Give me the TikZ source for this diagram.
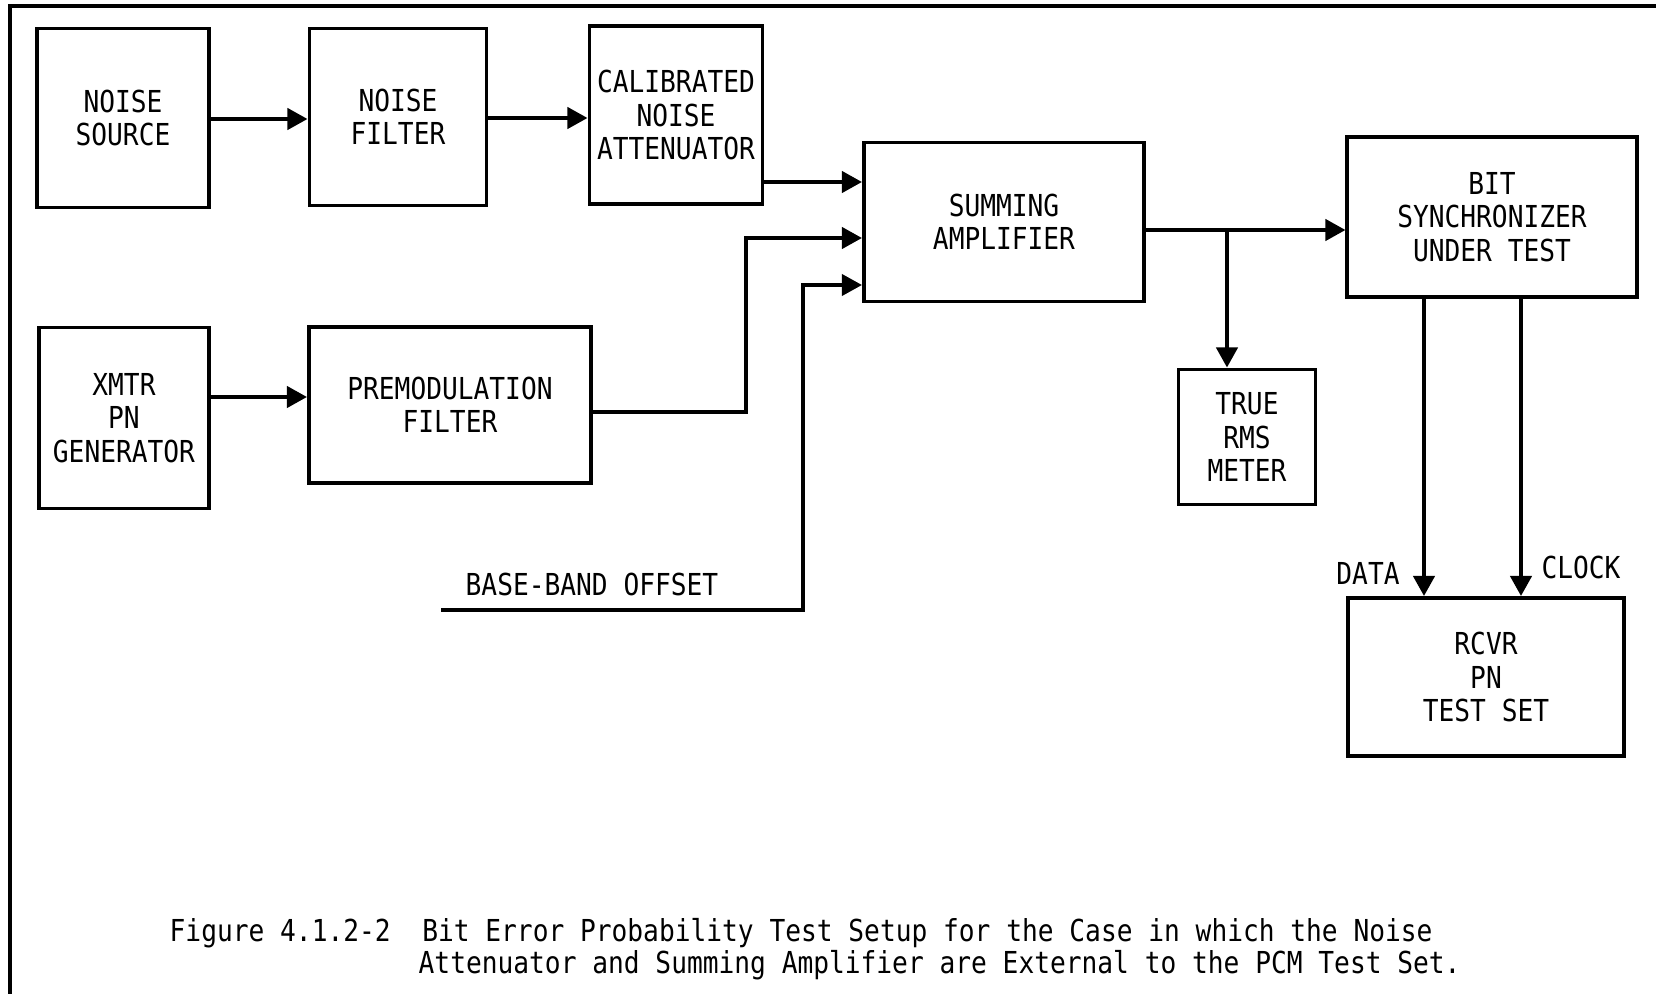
\documentclass[tikz,border=0pt]{standalone}
\usepackage{fontspec}
\usepackage{tikz}
\usetikzlibrary{arrows.meta}
\newfontfamily\typefont[FakeStretch=0.867]{DejaVu Sans Mono}

\begin{document}
\begin{tikzpicture}[x=0.01cm,y=-0.01cm,>={Triangle[length=5.7pt,width=6pt]},
    blk/.style={draw,line width=1.1pt,inner sep=0pt,align=center,
      font={\typefont\fontsize{8.6}{9.5}\selectfont}},
    lbl/.style={inner sep=0pt,font={\typefont\fontsize{8.6}{9.5}\selectfont}},
    sig/.style={->,line width=1.1pt}]
  \useasboundingbox (0,0) rectangle (1656,994);
  \draw[line width=0.9pt] (10,994) -- (10,6) -- (1656,6);

  % top row
  \node[blk,minimum width=1.72cm,minimum height=1.79cm] (ns) at (123,118) {NOISE\\SOURCE};
  \node[blk,minimum width=1.77cm,minimum height=1.77cm] (nf) at (398,117) {NOISE\\FILTER};
  \node[blk,minimum width=1.73cm,minimum height=1.78cm] (cna) at (676,115) {CALIBRATED\\NOISE\\ATTENUATOR};
  \node[blk,minimum width=2.80cm,minimum height=1.59cm] (sa) at (1004,222) {SUMMING\\AMPLIFIER};
  \node[blk,minimum width=2.89cm,minimum height=1.60cm] (bs) at (1492,217) {BIT\\SYNCHRONIZER\\UNDER TEST};

  % lower row
  \node[blk,minimum width=1.70cm,minimum height=1.81cm] (xg) at (124,418) {XMTR\\PN\\GENERATOR};
  \node[blk,minimum width=2.82cm,minimum height=1.56cm] (pf) at (450,405) {PREMODULATION\\FILTER};
  \node[blk,minimum width=1.37cm,minimum height=1.35cm] (rms) at (1247,437) {TRUE\\RMS\\METER};
  \node[blk,minimum width=2.76cm,minimum height=1.58cm] (rcvr) at (1486,677) {RCVR\\PN\\TEST SET};

  % helper points
  \coordinate (in1) at (864,182);
  \coordinate (pfturn) at (746,238);
  \coordinate (bbstart) at (441,610);
  \coordinate (bbturn) at (803,285);
  \coordinate (split) at (1227,230);
  \coordinate (dx) at (1424,0);
  \coordinate (cx) at (1521,0);

  \draw[sig] (ns.east |- 0,119) -- (nf.west |- 0,119);
  \draw[sig] (nf.east |- 0,118) -- (cna.west |- 0,118);
  \draw[sig] (cna.east |- in1) -- (sa.west |- in1);
  \draw[sig] (xg.east |- 0,397) -- (pf.west |- 0,397);
  \draw[sig] (pf.east |- 0,412) -| (pfturn) -- (sa.west |- pfturn);
  \draw[sig,line width=1pt] (bbstart) -| (bbturn) -- (sa.west |- bbturn);
  \node[lbl,anchor=west] (bb) at (465,584) {BASE-BAND OFFSET};

  \draw[sig] (sa.east |- split) -- (bs.west |- split);
  \draw[sig] (split) -- (rms.north -| split);
  \draw[sig] (bs.south -| dx) -- (rcvr.north -| dx);
  \draw[sig] (bs.south -| cx) -- (rcvr.north -| cx);
  \node[lbl] (data) at (1368,573) {DATA};
  \node[lbl] (clock) at (1581,567) {CLOCK};

  % caption
  \node[lbl,anchor=base west] (cap) at (169,942) {Figure 4.1.2-2\ \ Bit Error Probability Test Setup for the Case in which the Noise};
  \node[lbl,anchor=base west] (capb) at (418,973) {Attenuator and Summing Amplifier are External to the PCM Test Set.};
\end{tikzpicture}
\end{document}
